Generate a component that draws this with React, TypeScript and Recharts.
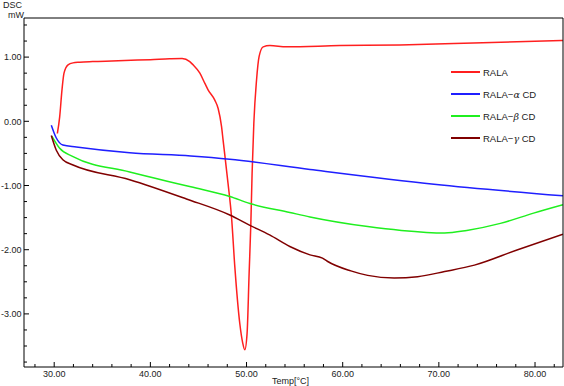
import { LineChart, Line, XAxis, YAxis } from 'recharts';

// x (Temp °C) and y (DSC mW) readings per sample
const ralaX = [30.33, 30.57, 30.81, 31.02, 31.44, 31.96, 32.65, 34, 36, 38, 40, 42, 43.3, 44.1, 44.44, 45.15, 45.67, 46.0, 46.7, 47.05, 47.4, 47.56, 48.08, 48.44, 48.78, 49.3, 49.6, 49.82, 50.06, 50.27, 50.45, 50.58, 50.76, 51.04, 51.31, 51.73, 52.43, 54.16, 59.7, 65.95, 73.6, 82.9];
const ralaY = [-0.19, 0.07, 0.49, 0.75, 0.88, 0.91, 0.92, 0.93, 0.94, 0.95, 0.96, 0.975, 0.98, 0.93, 0.88, 0.75, 0.59, 0.49, 0.33, 0.2, -0.08, -0.29, -0.97, -1.49, -2.26, -3.15, -3.45, -3.56, -3.3, -2.37, -1.59, -0.81, -0.03, 0.64, 1.01, 1.16, 1.18, 1.16, 1.18, 1.19, 1.22, 1.26];

const alphaX = [29.7, 30.22, 30.9, 32.3, 37.85, 44.2, 48.26, 56.6, 69.5, 82.9];
const alphaY = [-0.06, -0.26, -0.37, -0.4, -0.49, -0.54, -0.59, -0.75, -0.98, -1.16];

const betaX = [29.75, 30.57, 31.96, 37.85, 44.2, 48.26, 50.35, 54.5, 56.6, 62.6, 66.1, 70.6, 72.9, 76.4, 79.85, 82.9];
const betaY = [-0.23, -0.42, -0.55, -0.79, -1.02, -1.17, -1.28, -1.42, -1.49, -1.64, -1.7, -1.74, -1.7, -1.59, -1.43, -1.3];

const gammaX = [29.7, 30.22, 30.9, 31.96, 37.85, 43.75, 48.26, 50.35, 52.4, 54.5, 56.6, 57.9, 58.4, 60.85, 62.6, 65.35, 67.8, 70.6, 73.7, 78.2, 82.9];
const gammaY = [-0.22, -0.45, -0.6, -0.68, -0.91, -1.21, -1.46, -1.62, -1.77, -1.95, -2.08, -2.13, -2.18, -2.33, -2.4, -2.44, -2.42, -2.34, -2.24, -2.0, -1.76];

const xTicks = [28, 30, 32, 34, 36, 38, 40, 42, 44, 46, 48, 50, 52, 54, 56, 58, 60, 62, 64, 66, 68, 70, 72, 74, 76, 78, 80, 82];
const yTicks = [-3.75, -3.5, -3.25, -3, -2.75, -2.5, -2.25, -2, -1.75, -1.5, -1.25, -1, -0.75, -0.5, -0.25, 0, 0.25, 0.5, 0.75, 1, 1.25, 1.5];

const toPoints = (xs: number[], ys: number[]) => xs.map((x, i) => ({ x, y: ys[i] }));

const series = [
  { name: 'RALA', greek: '', color: '#ff1f1f', data: toPoints(ralaX, ralaY) },
  { name: 'RALA−', greek: 'α', color: '#1f1fff', data: toPoints(alphaX, alphaY) },
  { name: 'RALA−', greek: 'β', color: '#1fef1f', data: toPoints(betaX, betaY) },
  { name: 'RALA−', greek: 'γ', color: '#800000', data: toPoints(gammaX, gammaY) },
];

const X_DOMAIN = [26.86, 82.91];
const Y_DOMAIN = [-3.827, 1.609];
const FONT = '"Liberation Sans", Arial, sans-serif';

const fmt = (v: number) => (v < 0 ? '-' : '') + Math.abs(v).toFixed(2);

const YTick = (props: any) => {
  const { x, y, payload } = props;
  const v = payload.value;
  const major = Math.abs(v - Math.round(v)) < 1e-6;
  return (
    <g>
      <line x1={x} y1={y} x2={x + (major ? 5 : 3)} y2={y} stroke="#000" />
      {major && (
        <text x={x - 2.5} y={y + 3.2} textAnchor="end" fontSize={9} fill="#222" fontFamily={FONT}>
          {fmt(v)}
        </text>
      )}
    </g>
  );
};

const XTick = (props: any) => {
  const { x, y, payload } = props;
  const v = payload.value;
  const major = v % 10 === 0;
  return (
    <g>
      <line x1={x} y1={y} x2={x} y2={y - (major ? 5 : 3)} stroke="#000" />
      {major && (
        <text x={x} y={y + 10} textAnchor="middle" fontSize={9} fill="#222" fontFamily={FONT}>
          {v.toFixed(2)}
        </text>
      )}
    </g>
  );
};

const LegendBox = () => (
  <div style={{ position: 'absolute', left: 451, top: 61, fontFamily: FONT, fontSize: 9.5, color: '#222' }}>
    {series.map((s, i) => (
      <div key={i} style={{ display: 'flex', alignItems: 'center', height: 22 }}>
        <div style={{ width: 29, height: 1.5, background: s.color, marginRight: 3 }} />
        <span>
          {s.name}
          {s.greek && <i style={{ fontFamily: '"DejaVu Serif", serif' }}>{s.greek}</i>}
          {s.greek && ' CD'}
        </span>
      </div>
    ))}
  </div>
);

export default function App() {
  return (
    <div style={{ position: 'absolute', left: 0, top: 0, width: 564, height: 386, background: '#fff' }}>
      <LineChart width={564} height={386} margin={{ top: 0, right: 0, bottom: 0, left: 0 }}>
        <XAxis
          xAxisId="b"
          dataKey="x"
          type="number"
          domain={X_DOMAIN}
          ticks={xTicks}
          interval={0}
          allowDataOverflow
          height={19}
          tickSize={0}
          tickMargin={0}
          tick={<XTick />}
          tickLine={false}
          axisLine={{ stroke: '#000' }}
        />
        <XAxis
          xAxisId="t"
          orientation="top"
          type="number"
          domain={X_DOMAIN}
          allowDataOverflow
          height={18}
          tick={false}
          tickLine={false}
          axisLine={{ stroke: '#000' }}
        />
        <YAxis
          yAxisId="l"
          type="number"
          domain={Y_DOMAIN}
          ticks={yTicks}
          interval={0}
          allowDataOverflow
          width={24}
          tickSize={0}
          tickMargin={0}
          tick={<YTick />}
          tickLine={false}
          axisLine={{ stroke: '#000' }}
        />
        <YAxis
          yAxisId="r"
          orientation="right"
          type="number"
          domain={Y_DOMAIN}
          allowDataOverflow
          width={1}
          tick={false}
          tickLine={false}
          axisLine={{ stroke: '#000' }}
        />
        {series.map((s, i) => (
          <Line
            key={i}
            xAxisId="b"
            yAxisId="l"
            data={s.data}
            dataKey="y"
            type="monotone"
            stroke={s.color}
            strokeWidth={1.5}
            dot={false}
            isAnimationActive={false}
          />
        ))}
      </LineChart>
      <div style={{ position: 'absolute', left: 3, top: 0, fontFamily: FONT, fontSize: 9, color: '#222', lineHeight: '10px' }}>
        DSC
      </div>
      <div style={{ position: 'absolute', left: 8, top: 10, fontFamily: FONT, fontSize: 9, color: '#222', lineHeight: '10px' }}>
        mW
      </div>
      <div style={{ position: 'absolute', left: 272, top: 376, fontFamily: FONT, fontSize: 9, color: '#222', lineHeight: '10px' }}>
        Temp[°C]
      </div>
      <LegendBox />
    </div>
  );
}
